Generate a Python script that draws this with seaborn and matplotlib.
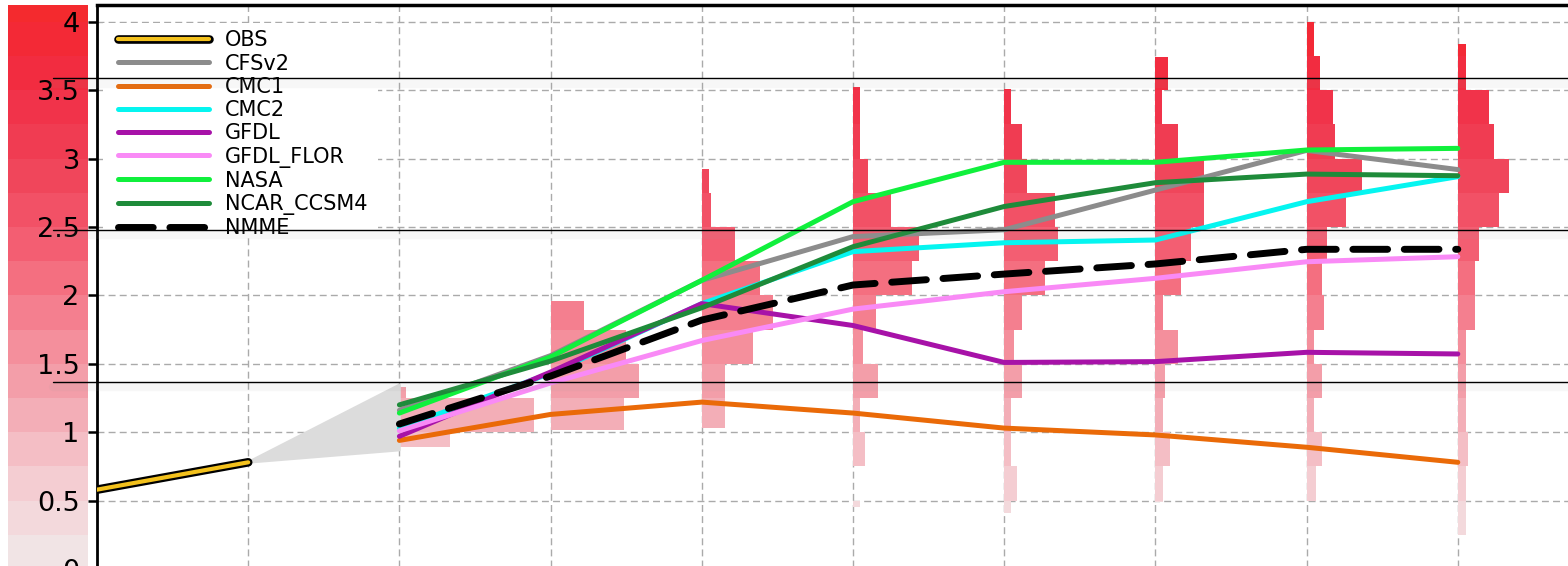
import numpy as np
import pandas as pd
import matplotlib
matplotlib.use("Agg")
import matplotlib.pyplot as plt
import matplotlib.patheffects as pe
from matplotlib.patches import Rectangle
import seaborn as sns

# ---------------- data ----------------
obs_lead = [0, 1]
obs_vals = [0.58, 0.78]

spread_lead = [1, 2, 2]
spread_vals = [0.78, 1.345, 0.87]

leads = [2, 3, 4, 5, 6, 7, 8, 9]
cfsv2 = [1.16, 1.56, 2.11, 2.43, 2.48, 2.77, 3.06, 2.92]
cmc1 = [0.94, 1.13, 1.22, 1.14, 1.03, 0.98, 0.89, 0.78]
cmc2 = [1.03, 1.43, 1.94, 2.32, 2.385, 2.405, 2.685, 2.868]
gfdl = [0.97, 1.44, 1.94, 1.78, 1.51, 1.516, 1.584, 1.572]
gfdl_flor = [1.01, 1.36, 1.67, 1.90, 2.027, 2.125, 2.246, 2.283]
nasa = [1.14, 1.55, 2.11, 2.685, 2.973, 2.973, 3.063, 3.075]
ncar_ccsm4 = [1.20, 1.52, 1.91, 2.356, 2.65, 2.824, 2.887, 2.875]
nmme = [1.06, 1.41, 1.82, 2.076, 2.156, 2.23, 2.337, 2.337]

model_names = ["CFSv2", "CMC1", "CMC2", "GFDL", "GFDL_FLOR", "NASA", "NCAR_CCSM4"]
model_series = [cfsv2, cmc1, cmc2, gfdl, gfdl_flor, nasa, ncar_ccsm4]

# histogram bins (0.25 wide) and bar lengths (in lead units) per lead
bin_edges = [0.0, 0.25, 0.5, 0.75, 1.0, 1.25, 1.5, 1.75, 2.0, 2.25, 2.5,
             2.75, 3.0, 3.25, 3.5, 3.75, 4.0, 4.25]
hist_lead2 = [0, 0, 0, 0.335, 0.891, 0.044, 0, 0, 0, 0, 0, 0, 0, 0, 0, 0, 0]
hist_lead3 = [0, 0, 0, 0, 0.487, 0.587, 0.50, 0.218, 0, 0, 0, 0, 0, 0, 0, 0, 0]
hist_lead4 = [0, 0, 0, 0, 0.152, 0.152, 0.337, 0.47, 0.388, 0.218, 0.064, 0.046, 0, 0, 0, 0, 0]
hist_lead5 = [0, 0.046, 0, 0.079, 0.044, 0.165, 0.066, 0.15, 0.39, 0.437, 0.249, 0.099, 0.046, 0.046, 0.046, 0, 0]
hist_lead6 = [0, 0.044, 0.084, 0.044, 0.044, 0.117, 0.064, 0.117, 0.271, 0.355, 0.337, 0.15, 0.117, 0.046, 0.046, 0, 0]
hist_lead7 = [0, 0.053, 0.053, 0.097, 0.053, 0.064, 0.152, 0.053, 0.17, 0.238, 0.324, 0.324, 0.152, 0.044, 0.086, 0, 0]
hist_lead8 = [0, 0, 0.064, 0.099, 0.046, 0.099, 0.051, 0.117, 0.099, 0.137, 0.258, 0.368, 0.185, 0.172, 0.086, 0.046, 0]
hist_lead9 = [0, 0.051, 0.051, 0.066, 0.051, 0.051, 0.051, 0.117, 0.117, 0.139, 0.271, 0.337, 0.238, 0.205, 0.051, 0.051, 0]
hist_all = [hist_lead2, hist_lead3, hist_lead4, hist_lead5,
            hist_lead6, hist_lead7, hist_lead8, hist_lead9]
hist_min = [0.894, 1.016, 1.033, 0.456, 0.407, 0.488, 0.50, 0.25]
hist_max = [1.333, 1.959, 2.924, 3.521, 3.509, 3.742, 3.999, 3.837]

ytick_vals = [0, 0.5, 1, 1.5, 2, 2.5, 3, 3.5, 4]
ytick_labels = ["0", "0.5", "1", "1.5", "2", "2.5", "3", "3.5", "4"]
xtick_vals = [0, 1, 2, 3, 4, 5, 6, 7, 8, 9]
overlay_rules = [3.589, 2.48, 1.37]

# ---------------- style ----------------
bin_colors = ["#F1E4E5", "#F3D9DC", "#F4CDD2", "#F4BEC5", "#F3AEB7", "#F39EA9",
              "#F48F9C", "#F47F8F", "#F46F80", "#F35E72", "#F25166", "#F0465B",
              "#F03C52", "#F1334A", "#F22C40", "#F32936", "#F42A2E"]
model_colors = ["#8C8C8C", "#EA6A08", "#05F5F0", "#A712A8", "#F98AF6",
                "#10F03C", "#1E8B3A"]

sns.set_theme(style="white")
plt.rcParams["font.family"] = ["DejaVu Sans"]
plt.rcParams["text.color"] = "black"

W, H = 1568, 566
fig = plt.figure(figsize=(W / 100, H / 100), dpi=100)

ylo, yhi = 0.0, 4.123
ax_bottom = -3 / H
ax_height = (569 - 5) / H
band_ax = fig.add_axes([8 / W, ax_bottom, 80 / W, ax_height])
ax = fig.add_axes([97 / W, ax_bottom, (W - 97) / W, ax_height])

# left colour band
band_lo = bin_edges[:-1]
band_h = np.diff(bin_edges)
band_ax.barh(band_lo, [1] * len(band_lo), height=band_h, left=0, align="edge",
             color=bin_colors, linewidth=0)
band_ax.set_xlim(0, 1)
band_ax.set_ylim(ylo, yhi)
band_ax.axis("off")

# histograms
for lead, widths, mn, mx in zip(leads, hist_all, hist_min, hist_max):
    for i, w in enumerate(widths):
        if w <= 0:
            continue
        lo = max(bin_edges[i], mn)
        hi = min(bin_edges[i + 1], mx)
        if hi <= lo:
            continue
        ax.barh(lo, w, height=hi - lo, left=lead, align="edge",
                color=bin_colors[i], linewidth=0, zorder=2)

# spread fan
ax.fill(spread_lead, spread_vals, color="#DCDCDC", lw=2, ec="#DCDCDC",
        joinstyle="round", zorder=2.5)

# OBS
sns.lineplot(x=obs_lead, y=obs_vals, ax=ax, color="#F3C11C", lw=3.0,
             solid_capstyle="round", zorder=4,
             path_effects=[pe.Stroke(linewidth=6.2, foreground="black"), pe.Normal()])
handles = [ax.lines[-1]]

for name, vals, c in zip(model_names, model_series, model_colors):
    sns.lineplot(x=leads, y=vals, ax=ax, color=c, lw=3.6,
                 solid_capstyle="round", zorder=3)
    handles.append(ax.lines[-1])

sns.lineplot(x=leads, y=nmme, ax=ax, color="black", lw=5.0,
             linestyle=(0, (5, 2.4)), dash_capstyle="round", zorder=3.5)
handles.append(ax.lines[-1])

labels = ["OBS"] + model_names + ["NMME"]

# axes cosmetics
ax.set_xlim(0, (W - 97) / 151.2)
ax.set_ylim(ylo, yhi)
ax.set_xticks(xtick_vals)
ax.set_xticklabels([])
ax.set_yticks(ytick_vals)
ax.set_yticklabels(ytick_labels, fontsize=19.5)
ax.tick_params(axis="x", length=0)
ax.tick_params(axis="y", direction="out", length=6.5, width=1.8, color="black",
               pad=6, left=True, labelcolor="black")
ax.set_axisbelow(True)
ax.grid(True, color="#AAAAAA", lw=1.0, ls=(0, (5, 3)))
for s in ["right", "bottom"]:
    ax.spines[s].set_visible(False)
ax.spines["top"].set_color("black")
ax.spines["top"].set_linewidth(2.5)
ax.spines["left"].set_color("black")
ax.spines["left"].set_linewidth(2.0)
ax.spines["left"].set_linestyle((0, (1, 1)))
ax.set_xlabel("")
ax.set_ylabel("")

# white legend background panel
ax.add_patch(Rectangle((0.004, 0.589), 0.187, 0.379, transform=ax.transAxes,
                       facecolor="white", edgecolor="none", zorder=1))

leg = ax.legend(handles, labels, loc="upper left", bbox_to_anchor=(0.0143, 0.955),
                frameon=False, fontsize=15, handlelength=4.35, handletextpad=0.8,
                labelspacing=0.155, borderpad=0, borderaxespad=0)
for t in leg.get_texts():
    t.set_color("black")
leg.set_zorder(6)

# thin horizontal rules across the picture
for v in overlay_rules:
    ax.axhline(v, xmin=-0.03, xmax=1, color="black", lw=1.0, clip_on=False,
               zorder=10,
               path_effects=[pe.SimpleLineShadow(offset=(0, -4), shadow_color="#999999",
                                                 alpha=0.08, linewidth=6), pe.Normal()])

fig.savefig("out.png", dpi=100)
